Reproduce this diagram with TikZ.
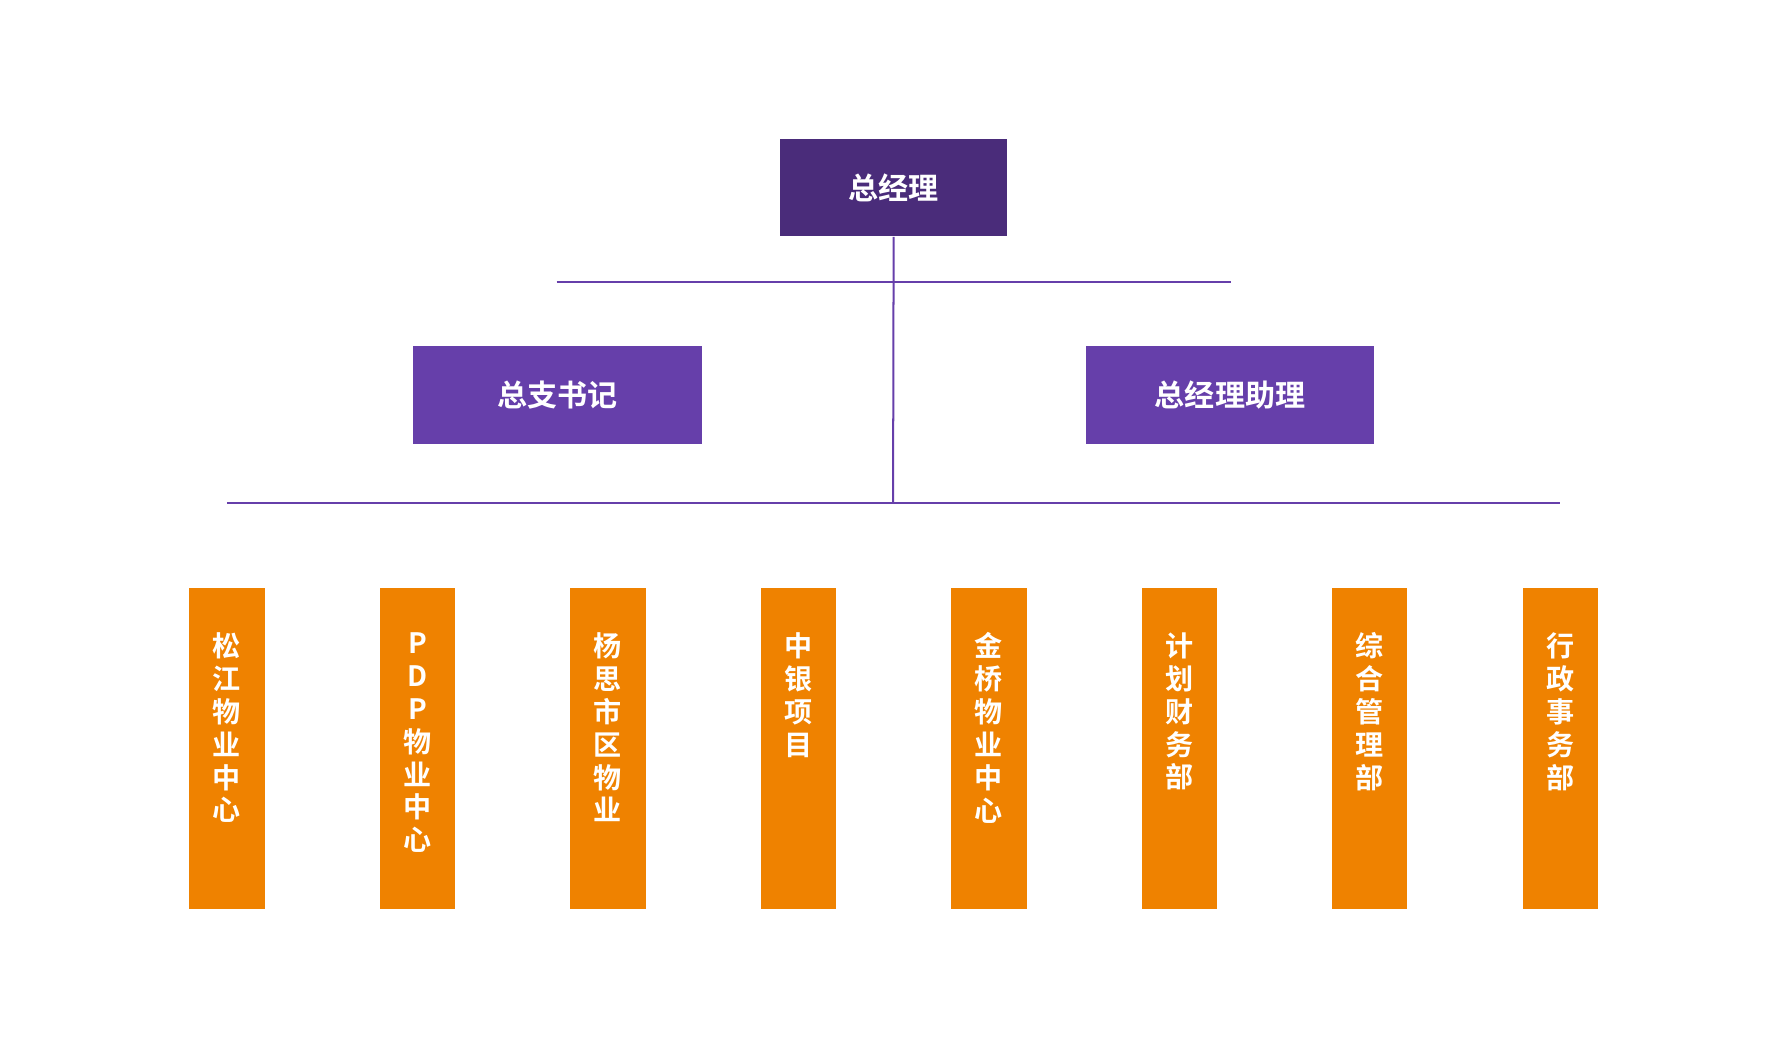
\documentclass[tikz,border=0pt]{standalone}
\usepackage{fontspec}
\newfontfamily\cjk{Noto Sans CJK SC Bold}
\definecolor{topcol}{HTML}{4A2C7A}
\definecolor{midcol}{HTML}{663FAA}
\definecolor{deptcol}{HTML}{EF8200}
\begin{document}
\begin{tikzpicture}
          [x=0.01cm,y=-0.01cm,
           boss/.style={fill=topcol,text=white,inner sep=0pt,minimum width=1.99cm,minimum height=0.85cm,font=\cjk\fontsize{7.5pt}{9pt}\selectfont},
           deputy/.style={fill=midcol,text=white,inner sep=0pt,minimum width=2.53cm,minimum height=0.86cm,font=\cjk\fontsize{7.5pt}{9pt}\selectfont},
           dept/.style={fill=deptcol,inner sep=0pt,minimum width=0.66cm,minimum height=2.81cm},
           vtext/.style={anchor=north,text=white,align=center,inner sep=0pt,font=\cjk\fontsize{7pt}{8.2pt}\selectfont},
           link/.style={draw=midcol,line width=0.5pt}]

          \useasboundingbox (0,0) rectangle (1565,928);

          \node[boss] (gm) at (783.5, 164.5) {总经理};
          \node[deputy] (sec) at (489, 346) {总支书记};
          \node[deputy] (asst) at (1078.5, 346) {总经理助理};

          \coordinate (midL) at (488, 247);
          \coordinate (midR) at (1079, 247);
          \coordinate (midC) at (783, 247);
          \coordinate (botL) at (199, 441);
          \coordinate (botR) at (1368, 441);
          \coordinate (botC) at (783, 441);

          \draw[link] (gm.south) -- (botC);
          \draw[link] (midL) -- (midR);
          \draw[link] (botL) -- (botR);

          \foreach \x/\name/\txt in {199/d1/{松\\江\\物\\业\\中\\心}, 366/d2/{P\\D\\P\\物\\业\\中\\心},
                                     533/d3/{杨\\思\\市\\区\\物\\业}, 700/d4/{中\\银\\项\\目},
                                     867/d5/{金\\桥\\物\\业\\中\\心}, 1034/d6/{计\\划\\财\\务\\部},
                                     1201/d7/{综\\合\\管\\理\\部}, 1368/d8/{行\\政\\事\\务\\部}}
          {
            \node[dept] (\name) at (\x, 656.5) {};
            \node[vtext] (\name t) at (\x, 554) {\txt};
          }
        \end{tikzpicture}
\end{document}
